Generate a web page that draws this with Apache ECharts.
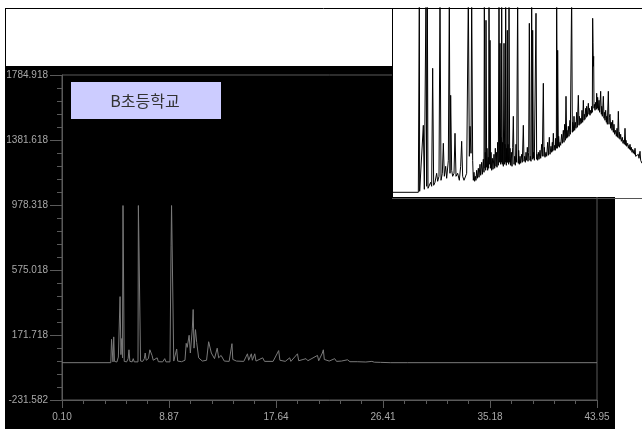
<!DOCTYPE html>
<html>
<head>
<meta charset="utf-8">
<title>B초등학교</title>
<script src="https://cdn.jsdelivr.net/npm/echarts@6/dist/echarts.min.js"></script>
<style>
  html, body { margin: 0; padding: 0; background: #fff; }
  #chart { width: 642px; height: 429px; }
</style>
</head>
<body>
<div id="chart"></div>
<script>
// axis ticks as printed by the instrument software
var xTicks = [0.10, 8.87, 17.64, 26.41, 35.18, 43.95]
var yTicks = [-231.582, 171.718, 575.018, 978.318, 1381.618, 1784.918]
var xLabels = ['0.10', '8.87', '17.64', '26.41', '35.18', '43.95']
var yLabels = ['-231.582', '171.718', '575.018', '978.318', '1381.618', '1784.918']

var sampleName = 'B초등학교'

// main chromatogram (retention time, signal)
var peakTime = [0.10, 4.10, 4.16, 4.22, 4.28, 4.34, 4.40, 4.60, 4.72, 4.86, 4.93, 5.00, 5.06, 5.10, 5.16, 5.20,
  5.40, 5.52, 5.59, 5.66, 5.85, 5.94, 6.02, 6.33, 6.36, 6.50, 6.54, 6.72, 6.85, 6.92, 7.00, 7.18, 7.30, 7.40,
  7.48, 7.58, 7.74, 7.90, 8.00, 8.35, 8.52, 8.62, 8.95, 9.04, 9.08, 9.22, 9.26, 9.40, 9.50, 9.58, 9.90, 10.18,
  10.28, 10.36, 10.52, 10.62, 10.78, 10.85, 10.92, 11.04, 11.14, 11.30, 11.60, 11.95, 12.12, 12.24, 12.34,
  12.48, 12.60, 12.82, 12.94, 13.14, 13.27, 13.40, 13.80, 14.03, 14.10, 14.40, 15.00, 15.30, 15.40, 15.62,
  15.70, 15.90, 16.00, 16.55, 16.70, 17.40, 17.86, 17.96, 18.40, 18.76, 18.86, 19.40, 19.50, 20.10, 20.25,
  21.04, 21.14, 21.44, 21.52, 21.60, 22.00, 22.45, 22.60, 23.00, 23.50, 23.70, 24.30, 25.00, 25.50, 25.70,
  26.20, 27.00, 28.40, 28.46, 28.52, 43.95]
var peakSignal = [0, 0, 145, 150, 5, 160, 8, 4, 35, 410, 50, 150, 30, 975, 975, 8,
  5, 25, 80, 8, 5, 25, 5, 5, 975, 975, 10, 8, 25, 60, 15, 25, 80, 70,
  45, 15, 8, 30, 6, 5, 25, 5, 5, 725, 975, 975, 10, 8, 85, 10, 6, 15,
  120, 95, 170, 60, 210, 330, 90, 205, 125, 30, 10, 15, 130, 135, 60,
  50, 25, 90, 30, 45, 55, 10, 8, 118, 20, 10, 8, 55, 15, 55,
  15, 55, 10, 30, 8, 8, 75, 15, 8, 30, 8, 55, 12, 25, 12,
  45, 12, 60, 80, 20, 10, 25, 8, 10, 18, 6, 6, 4, 8, 3,
  2, 0, 0, 8, 0, 0]

// enlarged trace in the inset: [scan, relative signal]
var insetTrace = [
  [8, 0], [85, 0], [88, 200], [89, 1], [95, 2], [100, 67], [103, 3], [106, 4], [108, 200], [110, 6], [112, 200],
  [114, 4], [118, 6], [122, 10], [125, 6], [128, 124], [131, 7], [135, 10], [140, 19], [143, 11], [147, 16],
  [150, 200], [153, 12], [157, 19], [160, 49], [163, 16], [167, 26], [170, 14], [175, 32], [178, 200], [180, 19],
  [182, 97], [185, 22], [188, 16], [192, 19], [195, 59], [198, 16], [203, 19], [208, 12], [212, 26], [215, 51],
  [218, 16], [222, 12], [226, 11], [230, 19], [235, 200], [238, 36], [240, 66], [243, 39], [245, 200], [248, 32],
  [250, 12], [252, 20], [254, 11], [256, 16], [258, 12], [260, 22], [262, 14], [265, 24], [267, 15], [270, 28],
  [272, 17], [275, 30], [277, 18], [280, 33], [282, 20], [283, 200], [285, 24], [286, 40], [287, 22], [288, 172],
  [290, 25], [291, 44], [293, 22], [295, 35], [296, 24], [297, 200], [299, 28], [300, 152], [302, 24], [303, 40],
  [305, 22], [307, 34], [309, 23], [312, 38], [314, 24], [316, 44], [318, 26], [320, 40], [321, 25], [323, 50],
  [325, 27], [327, 200], [329, 30], [330, 149], [332, 28], [333, 55], [334, 30], [335, 200], [337, 28], [338, 50],
  [340, 26], [342, 149], [344, 28], [345, 48], [346, 30], [347, 200], [349, 27], [350, 44], [351, 30], [352, 162],
  [353, 30], [354, 48], [356, 28], [357, 200], [359, 30], [360, 44], [362, 27], [364, 40], [366, 26], [368, 45],
  [370, 76], [372, 28], [374, 36], [376, 27], [378, 48], [380, 30], [383, 200], [385, 29], [386, 42], [388, 28],
  [390, 36], [392, 29], [395, 38], [397, 30], [400, 67], [402, 31], [404, 36], [406, 30], [408, 40], [410, 32],
  [412, 45], [414, 31], [416, 40], [418, 169], [420, 32], [421, 36], [423, 31], [425, 200], [427, 33], [428, 162],
  [430, 34], [431, 40], [433, 32], [435, 34], [437, 33], [438, 179], [440, 33], [441, 38], [443, 32], [445, 40],
  [447, 33], [450, 42], [452, 34], [455, 48], [457, 36], [460, 109], [462, 36], [463, 45], [465, 35], [468, 40],
  [470, 36], [473, 50], [475, 37], [478, 55], [480, 38], [483, 46], [485, 40], [487, 50], [488, 41], [490, 59],
  [492, 42], [494, 47], [496, 42], [497, 54], [499, 44], [500, 200], [502, 44], [503, 142], [505, 46], [506, 56],
  [508, 45], [510, 50], [512, 47], [515, 58], [517, 49], [520, 62], [522, 50], [524, 68], [526, 52], [528, 96],
  [530, 54], [531, 62], [533, 55], [535, 66], [537, 56], [540, 72], [541, 58], [542, 60], [544, 58], [545, 200],
  [547, 60], [548, 70], [550, 61], [552, 76], [554, 62], [556, 70], [558, 64], [560, 80], [562, 65], [565, 97],
  [567, 67], [568, 76], [570, 68], [572, 74], [574, 69], [576, 82], [578, 70], [580, 92], [582, 72], [583, 78],
  [585, 73], [587, 84], [589, 75], [590, 86], [592, 76], [595, 89], [597, 78], [598, 84], [600, 77], [602, 82],
  [604, 79], [605, 86], [607, 80], [608, 174], [609, 150], [610, 126], [611, 136], [612, 84], [613, 88], [615, 82],
  [617, 90], [619, 83], [620, 99], [622, 84], [623, 95], [625, 82], [627, 92], [629, 80], [632, 101], [634, 78],
  [635, 86], [637, 76], [640, 96], [642, 74], [643, 80], [645, 72], [647, 82], [649, 70], [650, 76], [652, 68],
  [655, 101], [657, 68], [658, 75], [660, 78], [662, 64], [664, 70], [666, 62], [668, 72], [670, 60], [672, 68],
  [674, 58], [677, 62], [679, 56], [681, 64], [683, 55], [685, 81], [687, 54], [688, 60], [690, 53], [692, 58],
  [694, 51], [697, 55], [699, 49], [701, 52], [703, 48], [705, 64], [707, 47], [708, 52], [710, 46], [713, 49],
  [715, 44], [717, 47], [719, 43], [720, 48], [722, 42], [724, 45], [726, 40], [728, 43], [730, 39], [732, 42],
  [734, 38], [735, 44], [737, 36], [740, 38], [742, 35], [745, 38], [747, 34], [750, 41], [752, 32], [753, 33],
  [755, 30], [756, 29]
]

var x0 = xTicks[0]
var y0 = yTicks[0]
var xStep = +(xTicks[1] - xTicks[0]).toFixed(2)
var yStep = +(yTicks[1] - yTicks[0]).toFixed(3)
var xSpan = +(xTicks[xTicks.length - 1] - x0).toFixed(2)
var ySpan = +(yTicks[yTicks.length - 1] - y0).toFixed(3)

// shift so that the first printed tick sits on the axis origin
var mainData = []
for (var i = 0; i < peakTime.length; i++) {
  mainData.push([+(peakTime[i] - x0).toFixed(3), +(peakSignal[i] - y0).toFixed(3)])
}

var axisGray = '#5a5a5a'
var labelStyle = {
  color: '#a8a8a8',
  fontFamily: 'Liberation Sans',
  fontSize: 10
}

var myChart = echarts.init(document.getElementById('chart'))
myChart.setOption({
  backgroundColor: '#fff',
  animation: false,
  grid: [
    {
      left: 62, right: 45, top: 75, bottom: 29,
      show: true,
      backgroundColor: 'transparent',
      borderColor: axisGray,
      borderWidth: 1
    },
    {
      left: 392, top: 8, width: 250, height: 189,
      show: false
    }
  ],
  xAxis: [
    {
      gridIndex: 0,
      type: 'value',
      min: 0,
      max: xSpan,
      interval: xStep,
      axisLine: { lineStyle: { color: axisGray } },
      axisTick: { show: true, length: 8, lineStyle: { color: axisGray } },
      minorTick: { show: true, splitNumber: 5, length: 4, lineStyle: { color: axisGray } },
      splitLine: { show: false },
      axisLabel: Object.assign({
        margin: 12,
        formatter: function (value, index) {
          return xLabels[index]
        }
      }, labelStyle)
    },
    {
      gridIndex: 1,
      type: 'value',
      min: 6,
      max: 756,
      show: false
    }
  ],
  yAxis: [
    {
      gridIndex: 0,
      type: 'value',
      min: 0,
      max: ySpan,
      interval: yStep,
      axisLine: { show: true, lineStyle: { color: axisGray } },
      axisTick: { show: true, length: 12, lineStyle: { color: axisGray } },
      minorTick: { show: true, splitNumber: 5, length: 5, lineStyle: { color: axisGray } },
      splitLine: { show: false },
      axisLabel: Object.assign({
        margin: 14,
        formatter: function (value, index) {
          return yLabels[index]
        }
      }, labelStyle)
    },
    {
      gridIndex: 1,
      type: 'value',
      min: -4.7,
      max: 184.3,
      show: false
    }
  ],
  graphic: {
    elements: [
      // dark plot panel
      { type: 'rect', z: -10, shape: { x: 5, y: 66, width: 610, height: 363 }, style: { fill: '#000' } },
      // outer frame
      { type: 'line', z: -9, shape: { x1: 5.5, y1: 8, x2: 5.5, y2: 429 }, style: { stroke: '#000', lineWidth: 1 } },
      { type: 'line', z: 6, shape: { x1: 5, y1: 8.5, x2: 642, y2: 8.5 }, style: { stroke: '#000', lineWidth: 1 } },
      // inset panel
      { type: 'rect', z: 5, shape: { x: 392, y: 9, width: 250, height: 188 }, style: { fill: '#fff' } },
      { type: 'line', z: 6, shape: { x1: 392.5, y1: 8, x2: 392.5, y2: 199 }, style: { stroke: '#000', lineWidth: 1 } },
      { type: 'line', z: 6, shape: { x1: 392, y1: 198.5, x2: 642, y2: 198.5 }, style: { stroke: '#555', lineWidth: 1 } },
      // sample label
      { type: 'rect', z: 7, shape: { x: 71, y: 82, width: 150, height: 37 }, style: { fill: '#ccccff' } },
      {
        type: 'text',
        z: 8,
        x: 145,
        y: 101,
        style: {
          text: sampleName,
          fill: '#333',
          font: '16px "Noto Sans CJK KR"',
          textAlign: 'center',
          textVerticalAlign: 'middle',
          align: 'center',
          verticalAlign: 'middle'
        }
      }
    ]
  },
  series: [
    {
      name: 'signal',
      type: 'line',
      xAxisIndex: 0,
      yAxisIndex: 0,
      data: mainData,
      symbol: 'none',
      clip: true,
      lineStyle: { color: '#7a7a7a', width: 1 }
    },
    {
      name: 'inset',
      type: 'line',
      xAxisIndex: 1,
      yAxisIndex: 1,
      data: insetTrace,
      symbol: 'none',
      clip: true,
      z: 10,
      lineStyle: { color: '#000', width: 1 }
    }
  ]
})
</script>
</body>
</html>
